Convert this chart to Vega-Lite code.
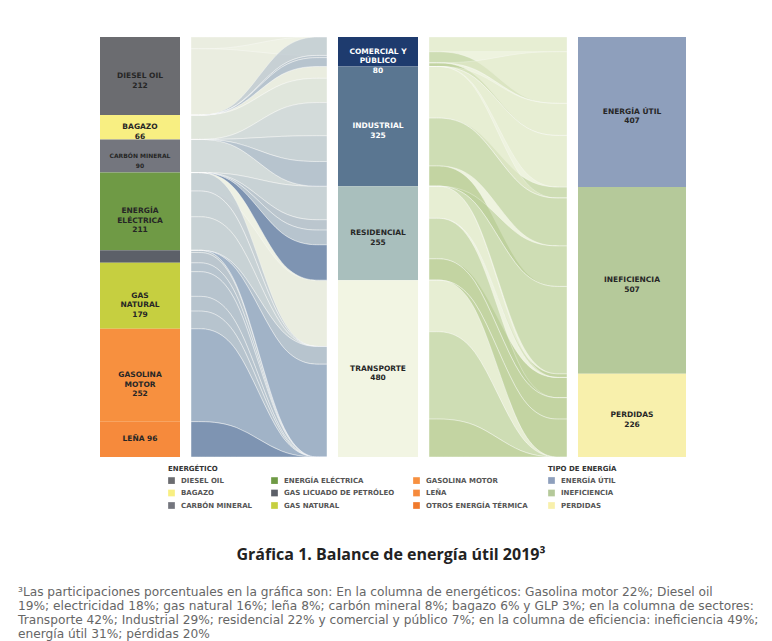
{
  "$schema": "https://vega.github.io/schema/vega-lite/v6.json",
  "background": "#ffffff",
  "padding": {"left": 18, "top": 37, "right": 0, "bottom": 0},
  "config": {"view": {"stroke": null}, "font": "DejaVu Sans"},
  "datasets": {
    "energ": [
      {"o": 1, "name": "DIESEL OIL", "v": 212, "label": "DIESEL OIL\n212"},
      {"o": 2, "name": "BAGAZO", "v": 66, "label": "BAGAZO\n66"},
      {"o": 3, "name": "CARBÓN MINERAL", "v": 90, "label": "CARBÓN MINERAL\n90"},
      {"o": 4, "name": "ENERGÍA ELÉCTRICA", "v": 211, "label": "ENERGÍA\nELÉCTRICA\n211"},
      {"o": 5, "name": "GAS LICUADO DE PETRÓLEO", "v": 34, "label": ""},
      {"o": 6, "name": "GAS NATURAL", "v": 179, "label": "GAS\nNATURAL\n179"},
      {"o": 7, "name": "GASOLINA MOTOR", "v": 252, "label": "GASOLINA\nMOTOR\n252"},
      {"o": 8, "name": "LEÑA", "v": 96, "label": "LEÑA 96"}
    ],
    "sect": [
      {"o": 1, "name": "COMERCIAL Y PÚBLICO", "v": 80, "label": "COMERCIAL Y\nPÚBLICO\n80"},
      {"o": 2, "name": "INDUSTRIAL", "v": 325, "label": "INDUSTRIAL\n325"},
      {"o": 3, "name": "RESIDENCIAL", "v": 255, "label": "RESIDENCIAL\n255"},
      {"o": 4, "name": "TRANSPORTE", "v": 480, "label": "TRANSPORTE\n480"}
    ],
    "efic": [
      {"o": 1, "name": "ENERGÍA ÚTIL", "v": 407, "label": "ENERGÍA ÚTIL\n407"},
      {"o": 2, "name": "INEFICIENCIA", "v": 507, "label": "INEFICIENCIA\n507"},
      {"o": 3, "name": "PERDIDAS", "v": 226, "label": "PERDIDAS\n226"}
    ],
    "linksA": [
      {"link": "DO-IN", "src": "DIESEL OIL", "tgt": "INDUSTRIAL", "v": 32, "p0": 12, "p1": 12, "p2": 21, "p3": 21},
      {"link": "DO-TR", "src": "DIESEL OIL", "tgt": "TRANSPORTE", "v": 180, "p0": 14, "p1": 14, "p2": 41, "p3": 41},
      {"link": "BA-IN", "src": "BAGAZO", "tgt": "INDUSTRIAL", "v": 66, "p0": 22, "p1": 22, "p2": 22, "p3": 22},
      {"link": "CM-IN", "src": "CARBÓN MINERAL", "tgt": "INDUSTRIAL", "v": 90, "p0": 32, "p1": 32, "p2": 23, "p3": 23},
      {"link": "EE-CO", "src": "ENERGÍA ELÉCTRICA", "tgt": "COMERCIAL Y PÚBLICO", "v": 50, "p0": 41, "p1": 41, "p2": 14, "p3": 14},
      {"link": "EE-IN", "src": "ENERGÍA ELÉCTRICA", "tgt": "INDUSTRIAL", "v": 70, "p0": 42, "p1": 42, "p2": 24, "p3": 24},
      {"link": "EE-RE", "src": "ENERGÍA ELÉCTRICA", "tgt": "RESIDENCIAL", "v": 91, "p0": 43, "p1": 43, "p2": 34, "p3": 34},
      {"link": "GLP-CO", "src": "GAS LICUADO DE PETRÓLEO", "tgt": "COMERCIAL Y PÚBLICO", "v": 6, "p0": 51, "p1": 51, "p2": 15, "p3": 15},
      {"link": "GLP-RE", "src": "GAS LICUADO DE PETRÓLEO", "tgt": "RESIDENCIAL", "v": 28, "p0": 53, "p1": 53, "p2": 35, "p3": 35},
      {"link": "GN-CO", "src": "GAS NATURAL", "tgt": "COMERCIAL Y PÚBLICO", "v": 24, "p0": 61, "p1": 61, "p2": 16, "p3": 16},
      {"link": "GN-IN", "src": "GAS NATURAL", "tgt": "INDUSTRIAL", "v": 67, "p0": 62, "p1": 62, "p2": 26, "p3": 26},
      {"link": "GN-RE", "src": "GAS NATURAL", "tgt": "RESIDENCIAL", "v": 40, "p0": 63, "p1": 63, "p2": 36, "p3": 36},
      {"link": "GN-TR", "src": "GAS NATURAL", "tgt": "TRANSPORTE", "v": 48, "p0": 64, "p1": 64, "p2": 46, "p3": 46},
      {"link": "GM-TR", "src": "GASOLINA MOTOR", "tgt": "TRANSPORTE", "v": 252, "p0": 74, "p1": 74, "p2": 47, "p3": 47},
      {"link": "LE-RE", "src": "LEÑA", "tgt": "RESIDENCIAL", "v": 96, "p0": 83, "p1": 83, "p2": 38, "p3": 38}
    ],
    "linksB": [
      {"link": "CO-EU", "tgt": "ENERGÍA ÚTIL", "v": 40, "p0": 11, "p1": 11, "p2": 11, "p3": 11},
      {"link": "CO-IN", "tgt": "INEFICIENCIA", "v": 30, "p0": 12, "p1": 12, "p2": 21, "p3": 21},
      {"link": "CO-PE", "tgt": "PERDIDAS", "v": 10, "p0": 13, "p1": 13, "p2": 31, "p3": 31},
      {"link": "IN-EU", "tgt": "ENERGÍA ÚTIL", "v": 140, "p0": 21, "p1": 21, "p2": 12, "p3": 12},
      {"link": "IN-IN", "tgt": "INEFICIENCIA", "v": 130, "p0": 22, "p1": 22, "p2": 22, "p3": 22},
      {"link": "IN-PE", "tgt": "PERDIDAS", "v": 55, "p0": 23, "p1": 23, "p2": 32, "p3": 32},
      {"link": "RE-EU", "tgt": "ENERGÍA ÚTIL", "v": 87, "p0": 31, "p1": 31, "p2": 13, "p3": 13},
      {"link": "RE-IN", "tgt": "INEFICIENCIA", "v": 110, "p0": 32, "p1": 32, "p2": 23, "p3": 23},
      {"link": "RE-PE", "tgt": "PERDIDAS", "v": 58, "p0": 33, "p1": 33, "p2": 33, "p3": 33},
      {"link": "TR-EU", "tgt": "ENERGÍA ÚTIL", "v": 140, "p0": 41, "p1": 41, "p2": 14, "p3": 14},
      {"link": "TR-IN", "tgt": "INEFICIENCIA", "v": 237, "p0": 42, "p1": 42, "p2": 24, "p3": 24},
      {"link": "TR-PE", "tgt": "PERDIDAS", "v": 103, "p0": 43, "p1": 43, "p2": 34, "p3": 34}
    ]
  },
  "vconcat": [
    {
      "spacing": 11,
      "bounds": "flush",
      "resolve": {"scale": {"color": "independent", "y": "independent", "x": "independent"}, "legend": {"color": "independent"}},
      "hconcat": [
        {"width": 71, "height": 420, "data": {"values": [{}]}, "mark": {"type": "point", "opacity": 0}},
        {
          "width": 80, "height": 420,
          "data": {"name": "energ"},
          "encoding": {
            "x": {"datum": "E", "type": "nominal", "axis": null, "scale": {"paddingInner": 0, "paddingOuter": 0}},
            "y": {"field": "v", "type": "quantitative", "stack": "zero", "axis": null, "scale": {"domain": [0, 1140], "reverse": true, "nice": false}},
            "order": {"field": "o", "type": "quantitative"},
            "detail": {"field": "name"}
          },
          "layer": [
            {
              "mark": {"type": "bar"},
              "encoding": {
                "color": {
                  "field": "name", "type": "nominal",
                  "scale": {
                    "domain": ["DIESEL OIL", "BAGAZO", "CARBÓN MINERAL", "ENERGÍA ELÉCTRICA", "GAS LICUADO DE PETRÓLEO", "GAS NATURAL", "GASOLINA MOTOR", "LEÑA", "OTROS ENERGÍA TÉRMICA"],
                    "range": ["#6b6c70", "#f8ef82", "#74767e", "#6f9a45", "#5c6068", "#c6cf40", "#f7903f", "#f68a3c", "#f07a2c"]
                  },
                  "legend": {
                    "title": "ENERGÉTICO", "orient": "none", "legendX": 68, "legendY": 428,
                    "columns": 3, "gridAlign": "each", "columnPadding": 18, "rowPadding": 4.5,
                    "symbolType": "square", "symbolSize": 45, "symbolStrokeWidth": 0, "symbolOpacity": 1, "symbolOffset": 0,
                    "labelFont": "DejaVu Sans", "labelFontSize": 7, "labelFontWeight": "bold", "labelColor": "#555555", "labelLimit": 200, "labelOffset": 6,
                    "titleFont": "DejaVu Sans", "titleFontSize": 7, "titleFontWeight": "bold", "titleColor": "#333333", "titlePadding": 5
                  }
                }
              }
            },
            {
              "mark": {"type": "text", "lineBreak": "\n", "font": "DejaVu Sans", "fontWeight": "bold", "baseline": "middle", "lineHeight": 9.5, "color": "#262626"},
              "encoding": {
                "y": {"field": "v", "type": "quantitative", "stack": "zero", "bandPosition": 0.5},
                "text": {"field": "label"},
                "size": {"condition": {"test": "datum.name === 'CARBÓN MINERAL'", "value": 6}, "value": 7.5}
              }
            }
          ]
        },
        {
          "width": 136, "height": 420,
          "view": {"fill": "#eef1e4", "stroke": null},
          "data": {"name": "linksA"},
          "transform": [{"fold": ["p0", "p1", "p2", "p3"], "as": ["pos", "ord"]}],
          "mark": {"type": "area", "interpolate": "basis", "opacity": 0.7, "stroke": "#ffffff", "strokeWidth": 0.6, "strokeOpacity": 0.8, "clip": true},
          "encoding": {
            "x": {"field": "pos", "type": "ordinal", "axis": null, "scale": {"type": "point", "padding": 0, "domain": ["p0", "p1", "p2", "p3"]}},
            "y": {"field": "v", "type": "quantitative", "stack": "zero", "axis": null, "scale": {"domain": [0, 1140], "reverse": true, "nice": false}},
            "order": {"field": "ord", "type": "quantitative"},
            "detail": {"field": "link"},
            "color": {"field": "src", "type": "nominal", "legend": null,
              "scale": {"domain": ["DIESEL OIL", "BAGAZO", "CARBÓN MINERAL", "ENERGÍA ELÉCTRICA", "GAS LICUADO DE PETRÓLEO", "GAS NATURAL", "GASOLINA MOTOR", "LEÑA"],
                        "range": ["#e9ecdf", "#dbe2da", "#c9d2d6", "#b9c5cf", "#a6b5c6", "#a0b1c6", "#8199bc", "#4f6e9e"]}}
          }
        },
        {
          "width": 80, "height": 420,
          "data": {"name": "sect"},
          "encoding": {
            "x": {"datum": "S", "type": "nominal", "axis": null, "scale": {"paddingInner": 0, "paddingOuter": 0}},
            "y": {"field": "v", "type": "quantitative", "stack": "zero", "axis": null, "scale": {"domain": [0, 1140], "reverse": true, "nice": false}},
            "order": {"field": "o", "type": "quantitative"},
            "detail": {"field": "name"}
          },
          "layer": [
            {
              "mark": {"type": "bar"},
              "encoding": {
                "color": {"field": "name", "type": "nominal", "legend": null,
                  "scale": {"domain": ["COMERCIAL Y PÚBLICO", "INDUSTRIAL", "RESIDENCIAL", "TRANSPORTE"], "range": ["#1e3b6e", "#5a7691", "#a9bfbd", "#f2f5e3"]}}
              }
            },
            {
              "mark": {"type": "text", "lineBreak": "\n", "font": "DejaVu Sans", "fontSize": 7.5, "fontWeight": "bold", "baseline": "middle", "lineHeight": 9.5},
              "encoding": {
                "y": {"field": "v", "type": "quantitative", "stack": "zero", "bandPosition": 0.5},
                "text": {"field": "label"},
                "color": {"condition": {"test": "datum.name === 'COMERCIAL Y PÚBLICO' || datum.name === 'INDUSTRIAL'", "value": "#ffffff"}, "value": "#262626"}
              }
            }
          ]
        },
        {
          "width": 138, "height": 420,
          "view": {"fill": "#eef3df", "stroke": null},
          "data": {"name": "linksB"},
          "transform": [{"fold": ["p0", "p1", "p2", "p3"], "as": ["pos", "ord"]}],
          "mark": {"type": "area", "interpolate": "basis", "opacity": 0.62, "stroke": "#ffffff", "strokeWidth": 0.6, "strokeOpacity": 0.8, "clip": true},
          "encoding": {
            "x": {"field": "pos", "type": "ordinal", "axis": null, "scale": {"type": "point", "padding": 0, "domain": ["p0", "p1", "p2", "p3"]}},
            "y": {"field": "v", "type": "quantitative", "stack": "zero", "axis": null, "scale": {"domain": [0, 1140], "reverse": true, "nice": false}},
            "order": {"field": "ord", "type": "quantitative"},
            "detail": {"field": "link"},
            "color": {"field": "tgt", "type": "nominal", "legend": null,
              "scale": {"domain": ["ENERGÍA ÚTIL", "INEFICIENCIA", "PERDIDAS"], "range": ["#e3ebcc", "#bcd09a", "#a9c27e"]}}
          }
        },
        {
          "width": 108, "height": 420,
          "data": {"name": "efic"},
          "encoding": {
            "x": {"datum": "T", "type": "nominal", "axis": null, "scale": {"paddingInner": 0, "paddingOuter": 0}},
            "y": {"field": "v", "type": "quantitative", "stack": "zero", "axis": null, "scale": {"domain": [0, 1140], "reverse": true, "nice": false}},
            "order": {"field": "o", "type": "quantitative"},
            "detail": {"field": "name"}
          },
          "layer": [
            {
              "mark": {"type": "bar"},
              "encoding": {
                "color": {"field": "name", "type": "nominal",
                  "scale": {"domain": ["ENERGÍA ÚTIL", "INEFICIENCIA", "PERDIDAS"], "range": ["#8e9fbc", "#b5c99a", "#f8f0ac"]},
                  "legend": {
                    "title": "TIPO DE ENERGÍA", "orient": "none", "legendX": -30, "legendY": 428,
                    "rowPadding": 4.5, "symbolType": "square", "symbolSize": 45, "symbolStrokeWidth": 0, "symbolOpacity": 1, "symbolOffset": 0,
                    "labelFont": "DejaVu Sans", "labelFontSize": 7, "labelFontWeight": "bold", "labelColor": "#555555", "labelOffset": 6,
                    "titleFont": "DejaVu Sans", "titleFontSize": 7, "titleFontWeight": "bold", "titleColor": "#333333", "titlePadding": 5
                  }
                }
              }
            },
            {
              "mark": {"type": "text", "lineBreak": "\n", "font": "DejaVu Sans", "fontSize": 7.5, "fontWeight": "bold", "baseline": "middle", "lineHeight": 9.5, "color": "#262626"},
              "encoding": {
                "y": {"field": "v", "type": "quantitative", "stack": "zero", "bandPosition": 0.5},
                "text": {"field": "label"}
              }
            }
          ]
        }
      ]
    },
    {
      "width": 746, "height": 1,
      "data": {"values": [{}]},
      "mark": {"type": "point", "opacity": 0},
      "title": {"text": "Gráfica 1. Balance de energía útil 2019³", "orient": "bottom", "anchor": "middle", "font": "Open Sans", "fontSize": 16, "fontWeight": "bold", "color": "#222222", "offset": 11}
    },
    {
      "width": 746, "height": 1,
      "data": {"values": [{}]},
      "mark": {"type": "point", "opacity": 0},
      "title": {
        "text": [
          "³Las participaciones porcentuales en la gráfica son: En la columna de energéticos: Gasolina motor 22%; Diesel oil",
          "19%; electricidad 18%; gas natural 16%; leña 8%; carbón mineral 8%; bagazo 6% y GLP 3%; en la columna de sectores:",
          "Transporte 42%; Industrial 29%; residencial 22% y comercial y público 7%; en la columna de eficiencia: ineficiencia 49%;",
          "energía útil 31%; pérdidas 20%"
        ],
        "anchor": "start", "font": "DejaVu Sans", "fontSize": 12.2, "fontWeight": "normal", "color": "#666666", "lineHeight": 14, "offset": 0
      }
    }
  ],
  "spacing": 21
}
